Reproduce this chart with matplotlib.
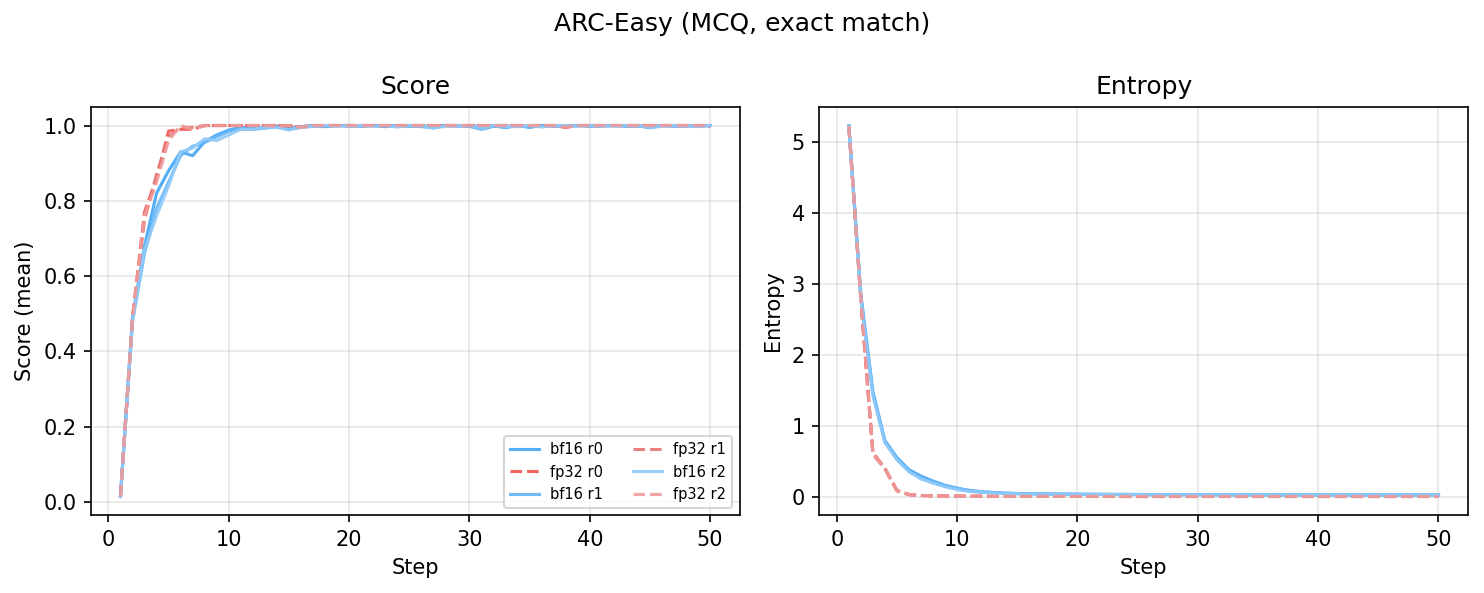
import numpy as np
import matplotlib
matplotlib.use('Agg')
import matplotlib.pyplot as plt

# steps and per-run curves
steps = list(range(1, 51))

score_bf16_r0 = [0.015, 0.49, 0.68, 0.82, 0.88, 0.93, 0.92, 0.957, 0.975, 0.988,
                 0.995, 0.993, 0.995, 0.998, 0.992, 0.997, 1.0, 0.997, 1.0, 1.0,
                 0.998, 1.0, 0.997, 1.0, 0.998, 1.0, 0.995, 1.0, 1.0, 0.998,
                 0.99, 0.998, 0.996, 1.0, 0.996, 1.0, 0.998, 1.0, 1.0, 0.998,
                 1.0, 1.0, 0.998, 1.0, 0.994, 1.0, 0.998, 1.0, 0.998, 1.0]
score_fp32_r0 = [0.015, 0.49, 0.77, 0.86, 0.985, 0.99, 0.99, 1.0, 1.0, 1.0,
                 1.0, 1.0, 1.0, 1.0, 0.998, 0.995, 1.0, 1.0, 1.0, 1.0,
                 1.0, 1.0, 1.0, 1.0, 1.0, 1.0, 1.0, 1.0, 1.0, 1.0,
                 1.0, 1.0, 1.0, 1.0, 1.0, 1.0, 1.0, 0.995, 1.0, 1.0,
                 1.0, 1.0, 1.0, 1.0, 1.0, 1.0, 1.0, 1.0, 1.0, 0.998]
score_bf16_r1 = [0.015, 0.48, 0.66, 0.78, 0.85, 0.92, 0.945, 0.955, 0.97, 0.985,
                 0.99, 0.99, 0.993, 0.996, 0.99, 0.995, 0.998, 1.0, 1.0, 0.998,
                 1.0, 1.0, 0.998, 1.0, 1.0, 0.997, 0.994, 1.0, 0.998, 1.0,
                 0.996, 1.0, 0.994, 1.0, 0.995, 1.0, 1.0, 0.998, 1.0, 1.0,
                 0.998, 1.0, 1.0, 0.998, 0.996, 1.0, 1.0, 0.998, 1.0, 1.0]
score_fp32_r1 = [0.015, 0.48, 0.75, 0.87, 0.97, 0.995, 0.995, 1.0, 1.0, 1.0,
                 1.0, 1.0, 1.0, 1.0, 1.0, 0.997, 1.0, 1.0, 1.0, 1.0,
                 1.0, 1.0, 1.0, 1.0, 1.0, 1.0, 1.0, 1.0, 1.0, 1.0,
                 1.0, 1.0, 1.0, 1.0, 1.0, 1.0, 1.0, 0.997, 1.0, 1.0,
                 1.0, 1.0, 1.0, 1.0, 1.0, 1.0, 1.0, 1.0, 1.0, 1.0]
score_bf16_r2 = [0.015, 0.48, 0.67, 0.76, 0.84, 0.93, 0.94, 0.965, 0.96, 0.975,
                 0.99, 0.99, 0.995, 0.995, 0.988, 0.996, 0.998, 1.0, 0.998, 1.0,
                 1.0, 0.998, 1.0, 0.996, 1.0, 1.0, 0.993, 0.998, 1.0, 1.0,
                 0.992, 1.0, 0.998, 0.997, 1.0, 0.996, 1.0, 1.0, 0.998, 1.0,
                 1.0, 0.998, 1.0, 1.0, 0.995, 0.998, 1.0, 1.0, 0.997, 1.0]
score_fp32_r2 = [0.015, 0.49, 0.76, 0.85, 0.96, 1.0, 0.99, 1.0, 1.0, 1.0,
                 1.0, 1.0, 1.0, 0.998, 1.0, 0.995, 1.0, 1.0, 1.0, 1.0,
                 1.0, 1.0, 1.0, 1.0, 1.0, 1.0, 1.0, 1.0, 1.0, 1.0,
                 1.0, 1.0, 1.0, 1.0, 1.0, 1.0, 1.0, 0.996, 1.0, 1.0,
                 1.0, 1.0, 1.0, 1.0, 1.0, 1.0, 1.0, 1.0, 1.0, 1.0]

ent_bf16_r0 = [5.23, 2.85, 1.48, 0.79, 0.55, 0.38, 0.29, 0.22, 0.16, 0.12,
               0.09, 0.07, 0.06, 0.05, 0.045, 0.042, 0.04, 0.038, 0.036, 0.035,
               0.034, 0.033, 0.032, 0.032, 0.031, 0.03, 0.03, 0.029, 0.029, 0.028,
               0.028, 0.028, 0.027, 0.027, 0.027, 0.026, 0.026, 0.026, 0.026, 0.025,
               0.025, 0.025, 0.025, 0.025, 0.024, 0.024, 0.024, 0.024, 0.024, 0.024]
ent_fp32_r0 = [5.23, 2.78, 0.62, 0.40, 0.09, 0.03, 0.018, 0.012, 0.01, 0.008,
               0.007, 0.006, 0.006, 0.005, 0.005, 0.005, 0.004, 0.004, 0.004, 0.004,
               0.004, 0.004, 0.003, 0.003, 0.003, 0.003, 0.003, 0.003, 0.003, 0.003,
               0.003, 0.003, 0.003, 0.003, 0.003, 0.003, 0.003, 0.003, 0.003, 0.003,
               0.003, 0.003, 0.003, 0.003, 0.003, 0.003, 0.003, 0.003, 0.003, 0.003]
ent_bf16_r1 = [5.22, 2.80, 1.45, 0.77, 0.53, 0.36, 0.26, 0.20, 0.15, 0.11,
               0.08, 0.065, 0.055, 0.048, 0.043, 0.04, 0.038, 0.036, 0.035, 0.034,
               0.033, 0.032, 0.031, 0.031, 0.03, 0.03, 0.029, 0.029, 0.028, 0.028,
               0.027, 0.027, 0.027, 0.026, 0.026, 0.026, 0.025, 0.025, 0.025, 0.025,
               0.025, 0.024, 0.024, 0.024, 0.024, 0.024, 0.024, 0.023, 0.023, 0.023]
ent_fp32_r1 = [5.22, 2.77, 0.60, 0.39, 0.08, 0.028, 0.016, 0.011, 0.009, 0.007,
               0.006, 0.006, 0.005, 0.005, 0.005, 0.004, 0.004, 0.004, 0.004, 0.004,
               0.003, 0.003, 0.003, 0.003, 0.003, 0.003, 0.003, 0.003, 0.003, 0.003,
               0.003, 0.003, 0.003, 0.003, 0.003, 0.003, 0.003, 0.003, 0.003, 0.003,
               0.003, 0.003, 0.003, 0.003, 0.003, 0.003, 0.003, 0.003, 0.003, 0.003]
ent_bf16_r2 = [5.22, 2.78, 1.42, 0.76, 0.52, 0.35, 0.25, 0.19, 0.14, 0.10,
               0.075, 0.062, 0.052, 0.046, 0.042, 0.039, 0.037, 0.035, 0.034, 0.033,
               0.032, 0.031, 0.031, 0.03, 0.03, 0.029, 0.029, 0.028, 0.028, 0.027,
               0.027, 0.027, 0.026, 0.026, 0.026, 0.025, 0.025, 0.025, 0.025, 0.024,
               0.024, 0.024, 0.024, 0.024, 0.023, 0.023, 0.023, 0.023, 0.023, 0.023]
ent_fp32_r2 = [5.22, 2.78, 0.61, 0.40, 0.085, 0.03, 0.017, 0.012, 0.009, 0.008,
               0.007, 0.006, 0.005, 0.005, 0.005, 0.004, 0.004, 0.004, 0.004, 0.004,
               0.004, 0.003, 0.003, 0.003, 0.003, 0.003, 0.003, 0.003, 0.003, 0.003,
               0.003, 0.003, 0.003, 0.003, 0.003, 0.003, 0.003, 0.003, 0.003, 0.003,
               0.003, 0.003, 0.003, 0.003, 0.003, 0.003, 0.003, 0.003, 0.003, 0.003]

labels = ['bf16 r0', 'fp32 r0', 'bf16 r1', 'fp32 r1', 'bf16 r2', 'fp32 r2']
colors = ['#42A5F5', '#EF5350', '#64B5F6', '#E57373', '#90CAF9', '#EF9A9A']
styles = ['-', '--', '-', '--', '-', '--']
scores = [score_bf16_r0, score_fp32_r0, score_bf16_r1, score_fp32_r1, score_bf16_r2, score_fp32_r2]
entropies = [ent_bf16_r0, ent_fp32_r0, ent_bf16_r1, ent_fp32_r1, ent_bf16_r2, ent_fp32_r2]

fig, (ax1, ax2) = plt.subplots(1, 2, figsize=(1484 / 150, 593 / 150), dpi=150)
fig.suptitle('ARC-Easy (MCQ, exact match)')

for lab, col, ls, s, e in zip(labels, colors, styles, scores, entropies):
    ax1.plot(steps, s, ls, color=col, lw=1.5, alpha=0.9, label=lab)
    ax2.plot(steps, e, ls, color=col, lw=1.5, alpha=0.9, label=lab)

ax1.set_title('Score')
ax1.set_xlabel('Step')
ax1.set_ylabel('Score (mean)')
ax1.grid(True, alpha=0.3)
ax1.legend(loc='lower right', ncol=2, fontsize=7)

ax2.set_title('Entropy')
ax2.set_xlabel('Step')
ax2.set_ylabel('Entropy')
ax2.grid(True, alpha=0.3)

fig.subplots_adjust(left=0.0613, right=0.9892, top=0.8196, bottom=0.1315, wspace=0.123)
fig.savefig('out.png', dpi=150)
